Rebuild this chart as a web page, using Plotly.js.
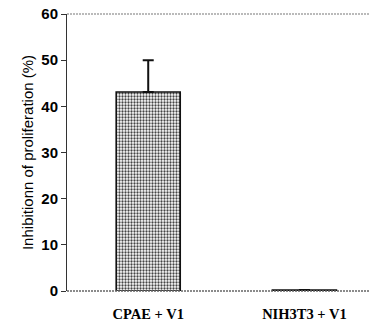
<!DOCTYPE html>
<html><head><meta charset="utf-8">
<script src="https://cdn.plot.ly/plotly-3.0.1.min.js"></script>
<style>html,body{margin:0;padding:0;background:#fff}</style>
</head><body><div id="chart" style="width:373px;height:326px"></div>
<script>
const categories = ["CPAE + V1", "NIH3T3 + V1"];
const values = [43.1, 0.2];
const errorsPlus = [6.9, 0];
const yTicks = [0, 10, 20, 30, 40, 50, 60];

Plotly.newPlot("chart", [{
  type: "bar",
  x: [0, 1],
  y: values,
  width: 0.41,
  marker: {
    color: "#ffffff",
    line: {color: "#111", width: 1.6},
    pattern: {shape: ".", size: 3, solidity: 0.45, fgcolor: "#444", bgcolor: "#fff", fillmode: "replace"}
  },
  error_y: {type: "data", symmetric: false, array: errorsPlus, arrayminus: [0, 0], color: "#111", thickness: 2, width: 5.5}
}], {
  width: 373, height: 326,
  margin: {l: 67, r: 3, t: 14, b: 35},
  paper_bgcolor: "#fff", plot_bgcolor: "#fff",
  showlegend: false,
  bargap: 0,
  shapes: [
    {type: "line", xref: "paper", yref: "paper", x0: 0, x1: 1, y0: 1, y1: 1, line: {color: "#777", width: 1.2, dash: "2px,1px"}},
    {type: "line", xref: "paper", yref: "paper", x0: 0, x1: 1, y0: 0, y1: 0, line: {color: "#666", width: 1.4, dash: "2px,1px"}}
  ],
  xaxis: {
    range: [-0.52, 1.42],
    tickvals: [0, 1], ticktext: categories,
    showline: false,
    ticks: "", showgrid: false, zeroline: false,
    tickfont: {family: "Liberation Serif", size: 14.5, color: "#000", weight: "bold"},
    ticklabelstandoff: 12
  },
  yaxis: {
    range: [0, 60],
    tickvals: yTicks,
    showline: true, linecolor: "#333", linewidth: 1,
    ticks: "outside", ticklen: 5, tickcolor: "#333",
    showgrid: false, zeroline: false,
    tickfont: {family: "Liberation Sans", size: 15, color: "#000", weight: "bold"},
    title: {text: "Inhibitionn of proliferation (%)", font: {family: "Liberation Sans", size: 15, color: "#000"}, standoff: 4}
  }
}, {displayModeBar: false, staticPlot: true});
</script></body></html>
